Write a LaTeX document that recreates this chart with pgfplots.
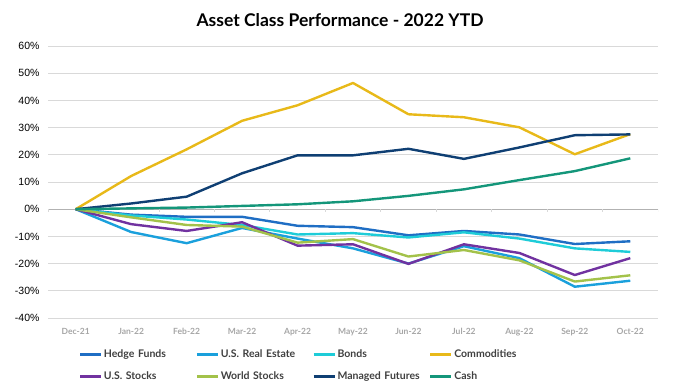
\documentclass[border=0pt]{standalone}
\usepackage{pgfplots}
\pgfplotsset{compat=1.18}
\usepackage{fontspec}
\setmainfont{Lato}
\newfontfamily\tickfont{Liberation Sans}
\definecolor{hedge}{HTML}{1F6EC4}
\definecolor{realestate}{HTML}{1AA0DC}
\definecolor{bonds}{HTML}{1ECCD8}
\definecolor{commod}{HTML}{E8B919}
\definecolor{usstocks}{HTML}{7132A0}
\definecolor{world}{HTML}{A3C24A}
\definecolor{managed}{HTML}{0F3F73}
\definecolor{cash}{HTML}{14967A}
\definecolor{gridc}{HTML}{D9D9D9}
\definecolor{catc}{HTML}{A6A6A6}
\definecolor{txt}{HTML}{404040}
\begin{document}
\begin{tikzpicture}
\useasboundingbox (-48pt,-69pt) rectangle (636pt,318pt);
\begin{axis}[
  scale only axis,
  width=610pt, height=272pt,
  at={(0pt,0pt)}, anchor=south west,
  xmin=-0.5, xmax=10.5, ymin=-40, ymax=60,
  axis line style={draw=none},
  major tick length=0pt,
  ytick={-40,-30,-20,-10,0,10,20,30,40,50,60},
  yticklabels={-40\%,-30\%,-20\%,-10\%,0\%,10\%,20\%,30\%,40\%,50\%,60\%},
  yticklabel style={font=\tickfont\fontsize{10.5}{12}\selectfont, text=black, xshift=-5pt},
  ymajorgrids,
  grid style={gridc, line width=0.8pt},
  xtick={0,...,10},
  xticklabels={Dec-21,Jan-22,Feb-22,Mar-22,Apr-22,May-22,Jun-22,Jul-22,Aug-22,Sep-22,Oct-22},
  xticklabel style={font=\fontsize{8.5}{10}\selectfont\bfseries, text=catc, yshift=-7pt},
  /pgf/number format/assume math mode=true,
  every axis plot/.append style={line width=2.4pt, line join=round},
  legend columns=4,
  legend cell align=left,
  legend style={at={(axis description cs:0.045,-0.10)}, anchor=north west, draw=none, fill=none,
    font=\fontsize{10.5}{12}\selectfont\bfseries, text=txt,
    nodes={text width=90pt, inner xsep=1.5pt, inner ysep=2pt, text height=8pt, text depth=2pt},
    row sep=8pt},
  legend image code/.code={\draw[#1, line width=2.8pt] (0pt,0pt) -- (21pt,0pt);},
]
% zero line and small category ticks
\addplot[forget plot, color=black!30, line width=0.8pt] coordinates {(-0.5,0)(10.5,0)};
\addplot[forget plot, ycomb, no marks, color=gridc, line width=0.8pt] coordinates {(-0.5,-1.2)(0.5,-1.2)(1.5,-1.2)(2.5,-1.2)(3.5,-1.2)(4.5,-1.2)(5.5,-1.2)(6.5,-1.2)(7.5,-1.2)(8.5,-1.2)(9.5,-1.2)(10.5,-1.2)};
\addplot[hedge] coordinates {(0,0)(1,-2.0)(2,-2.8)(3,-2.8)(4,-6.1)(5,-6.6)(6,-9.6)(7,-8.0)(8,-9.3)(9,-12.8)(10,-11.8)};
\addlegendentry{Hedge Funds}
\addplot[realestate] coordinates {(0,0)(1,-8.4)(2,-12.5)(3,-6.9)(4,-10.8)(5,-14.4)(6,-20.0)(7,-13.6)(8,-18.0)(9,-28.5)(10,-26.3)};
\addlegendentry{U.S. Real Estate}
\addplot[bonds] coordinates {(0,0)(1,-2.3)(2,-3.8)(3,-5.8)(4,-9.3)(5,-8.8)(6,-10.4)(7,-8.5)(8,-10.8)(9,-14.4)(10,-15.7)};
\addlegendentry{Bonds}
\addplot[commod] coordinates {(0,0)(1,12.2)(2,22.0)(3,32.5)(4,38.2)(5,46.4)(6,34.9)(7,33.8)(8,30.1)(9,20.2)(10,27.6)};
\addlegendentry{Commodities}
\addplot[usstocks] coordinates {(0,0)(1,-5.5)(2,-8.0)(3,-4.8)(4,-13.4)(5,-12.9)(6,-20.1)(7,-12.9)(8,-16.1)(9,-24.2)(10,-18.0)};
\addlegendentry{U.S. Stocks}
\addplot[world] coordinates {(0,0)(1,-3.0)(2,-5.8)(3,-6.4)(4,-12.3)(5,-11.0)(6,-17.4)(7,-15.0)(8,-18.8)(9,-26.6)(10,-24.3)};
\addlegendentry{World Stocks}
\addplot[managed] coordinates {(0,0)(1,2.1)(2,4.6)(3,13.2)(4,19.8)(5,19.8)(6,22.2)(7,18.5)(8,22.7)(9,27.2)(10,27.5)};
\addlegendentry{Managed Futures}
\addplot[cash] coordinates {(0,0)(1,0.3)(2,0.6)(3,1.2)(4,1.8)(5,2.9)(6,4.9)(7,7.3)(8,10.7)(9,14.0)(10,18.7)};
\addlegendentry{Cash}
\end{axis}
\node[font=\fontsize{17.5}{20}\selectfont\bfseries, anchor=center] at (292pt,298pt) {Asset Class Performance - 2022 YTD};
\end{tikzpicture}
\end{document}
